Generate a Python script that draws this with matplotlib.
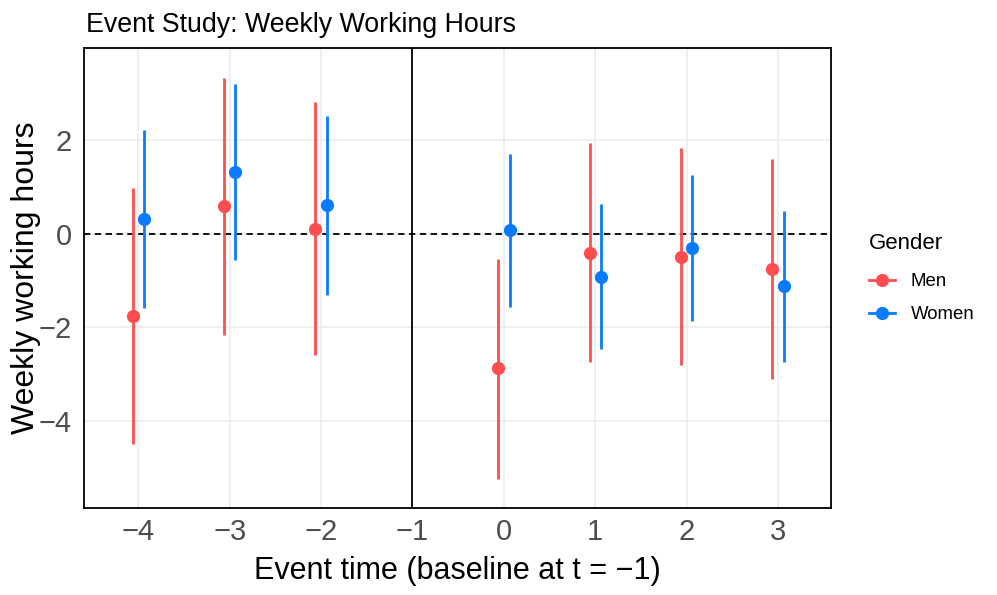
import matplotlib
matplotlib.use("Agg")
import matplotlib.pyplot as plt
from matplotlib.lines import Line2D
import numpy as np

plt.rcParams['font.family'] = ['Liberation Sans', 'DejaVu Sans']

event_time = [-4, -3, -2, 0, 1, 2, 3]
men_est = [-1.76, 0.60, 0.11, -2.87, -0.41, -0.49, -0.75]
men_lo = [-4.48, -2.16, -2.58, -5.23, -2.73, -2.81, -3.10]
men_hi = [0.97, 3.32, 2.81, -0.54, 1.93, 1.82, 1.60]
women_est = [0.31, 1.32, 0.61, 0.07, -0.92, -0.31, -1.12]
women_lo = [-1.58, -0.57, -1.31, -1.56, -2.47, -1.86, -2.73]
women_hi = [2.21, 3.20, 2.51, 1.71, 0.63, 1.26, 0.48]
x_ticks = [-4, -3, -2, -1, 0, 1, 2, 3]
y_ticks = [-4, -2, 0, 2]

men_color = '#FF4D4F'
women_color = '#0A7BFF'
dodge = 0.062

fig = plt.figure(figsize=(9.97, 5.95), dpi=100)
ax = fig.add_axes([84/997, 1-507.7/595, (831-84)/997, (507.7-47.7)/595])

ax.set_xlim(-4.595, 3.58)
ax.set_ylim(-5.85, 3.97)
ax.set_xticks(x_ticks)
ax.set_yticks(y_ticks)
ax.grid(True, color='#EBEBEB', linewidth=1.1, zorder=0)
ax.set_axisbelow(True)

ax.axhline(0, color='black', linestyle=(0, (3.5, 2.5)), linewidth=1.3, zorder=1)
ax.axvline(-1, color='black', linewidth=1.3, zorder=1)

x = np.array(event_time, dtype=float)
for xs, est, lo, hi, c in [(x - dodge, men_est, men_lo, men_hi, men_color),
                           (x + dodge, women_est, women_lo, women_hi, women_color)]:
    ax.vlines(xs, lo, hi, color=c, linewidth=2.0, zorder=2)
    ax.plot(xs, est, 'o', color=c, markersize=9.5, markeredgewidth=0, zorder=3)

for s in ax.spines.values():
    s.set_color('black')
    s.set_linewidth(1.3)

ax.tick_params(axis='both', length=0, labelsize=21, labelcolor='#4D4D4D')
ax.tick_params(axis='x', pad=7.5)
ax.tick_params(axis='y', pad=9)
ax.set_xticklabels(['\u2212' + str(-t) if t < 0 else str(t) for t in x_ticks])
ax.set_yticklabels(['\u2212' + str(-t) if t < 0 else str(t) for t in y_ticks])

ax.set_xlabel('Event time (baseline at t = \u22121)', fontsize=22, labelpad=7)
ax.set_ylabel('Weekly working hours', fontsize=23, labelpad=-2)

fig.text(86/997, 1-31.7/595, 'Event Study: Weekly Working Hours', fontsize=19.3,
         ha='left', va='baseline')

handles = [Line2D([0], [0], color=men_color, linewidth=2, marker='o', markersize=9.5, markeredgewidth=0),
           Line2D([0], [0], color=women_color, linewidth=2, marker='o', markersize=9.5, markeredgewidth=0)]
leg = fig.legend(handles, ['Men', 'Women'], title='Gender', loc='upper left',
                 bbox_to_anchor=(852/997, 1-216/595), frameon=False,
                 fontsize=13.4, title_fontsize=16, handlelength=1.4,
                 labelspacing=0.85, handletextpad=0.85)
leg._legend_box.align = 'left'
leg._legend_box.sep = 14

fig.savefig('out.png', dpi=100)
